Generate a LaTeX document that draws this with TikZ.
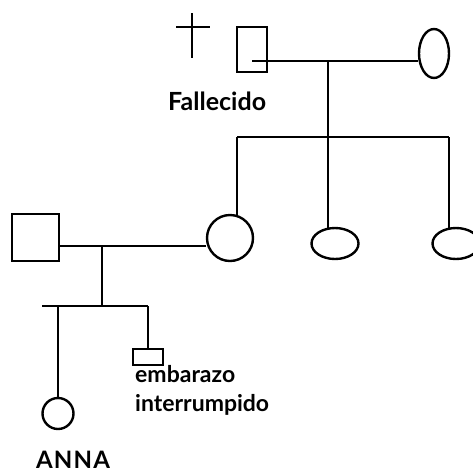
\documentclass[tikz,border=0pt]{standalone}
\usepackage{fontspec}
\setmainfont{Lato}
\usetikzlibrary{shapes.geometric}
\begin{document}
\begin{tikzpicture}[x=1pt,y=-1pt,line width=2.4pt,
  male/.style={draw,rectangle,inner sep=0pt,line width=2.4pt},
  female/.style={draw,ellipse,inner sep=0pt,line width=2.4pt},
  lbl/.style={inner sep=0pt,font=\fontsize{23}{29}\selectfont\bfseries},
  ln/.style={line width=2.4pt}]
\useasboundingbox (0,0) rectangle (473,472);
\clip (0,0) rectangle (473,472);
% cross
\coordinate (ct) at (192,13); \coordinate (cb) at (192,58);
\coordinate (cl) at (176,27); \coordinate (cr) at (210,27);
\draw[ln] (ct) -- (cb); \draw[ln] (cl) -- (cr);
% grandparents
\node[male,minimum width=30pt,minimum height=45pt] (gf) at (252,49.5) {};
\node[female,minimum width=30pt,minimum height=49pt] (gm) at (434,53.5) {};
\node[lbl,anchor=base west,font=\fontsize{25}{29}\selectfont\bfseries] (fall) at (167,110) {Fallecido};
\coordinate (gfm) at (252,61);
\coordinate (gmar) at (328,61);
\draw[ln] (gfm) -- (gm.west |- gfm);
\coordinate (gsib) at (328,137);
\draw[ln] (gmar) -- (gsib);
\coordinate (s1) at (237,137); \coordinate (s3) at (449,137);
\draw[ln] (s1) -- (s3);
% children
\node[female,minimum width=46pt,minimum height=46pt] (mo) at (230,238) {};
\node[female,minimum width=47pt,minimum height=31pt] (a2) at (335,243.5) {};
\node[female,minimum width=47pt,minimum height=31pt] (a3) at (456,243.5) {};
\draw[ln] (s1) -- (237,216);
\draw[ln] (328,137) -- (328,228.5);
\draw[ln] (s3) -- (449,228.5);
% father
\node[male,minimum width=47pt,minimum height=47pt] (fa) at (35.5,237.5) {};
\coordinate (pm) at (102,246);
\draw[ln] (fa.east |- pm) -- (mo.west |- pm);
\coordinate (psib) at (102,306);
\draw[ln] (pm) -- (psib);
\coordinate (k1) at (42,306); \coordinate (k2) at (148,306);
\draw[ln] (k1) -- (k2);
% Anna
\node[female,minimum width=31pt,minimum height=31pt] (anna) at (58,413.5) {};
\draw[ln] (58,306) -- (anna.north);
\node[lbl,anchor=base,font=\fontsize{24}{28}\selectfont\bfseries\addfontfeature{LetterSpace=5}] (annal) at (73,468) {ANNA};
% miscarriage
\node[male,minimum width=30pt,minimum height=16pt] (mis) at (148,357) {};
\draw[ln] (k2) -- (mis.north);
\node[lbl,anchor=north west,align=left] (misl) at (134,364) {embarazo\\interrumpido};
\end{tikzpicture}
\end{document}
